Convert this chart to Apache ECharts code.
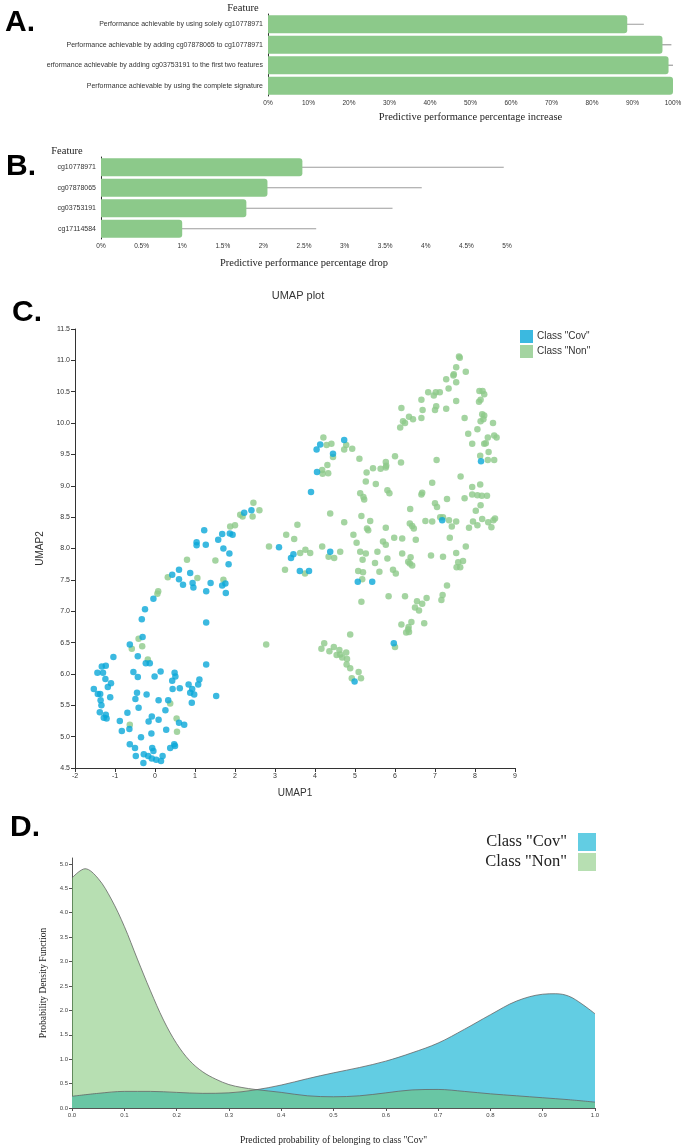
<!DOCTYPE html>
<html><head><meta charset="utf-8">
<script src="https://cdn.jsdelivr.net/npm/echarts@6/dist/echarts.min.js"></script>
<style>html,body{margin:0;padding:0;background:#fff}#c{width:685px;height:1148px}</style>
</head><body><div id="c"></div>
<script>
// ---- Panel A data ----
const catsA = ['Performance achievable by using solely cg10778971','Performance achievable by adding cg07878065 to cg10778971','erformance achievable by adding cg03753191 to the first two features','Performance achievable by using the complete signature'];
const valsA = [88.7, 97.4, 98.9, 100];
const errLowA = [84.0, 95.1, 97.5, 99.6];
const errHighA = [92.8, 99.6, 100.0, 100.0];
// ---- Panel B data ----
const catsB = ['cg10778971','cg07878065','cg03753191','cg17114584'];
const valsB = [2.48, 2.05, 1.79, 1.0];
const errLowB = [0.11, 0.25, 0.17, 0.0];
const errHighB = [4.96, 3.95, 3.59, 2.65];
// ---- Panel C data (UMAP1, UMAP2) ----
const umapCov = [[1.04,8.10],[1.04,8.05],[1.27,8.06],[1.58,8.14],[1.71,8.00],[1.86,7.92],[1.84,7.75],[0.60,7.66],[0.43,7.58],[0.88,7.61],[0.60,7.51],[0.94,7.45],[0.70,7.42],[0.96,7.38],[1.39,7.45],[1.76,7.44],[1.68,7.41],[1.28,7.32],[1.77,7.29],[-0.04,7.20],[-0.25,7.03],[-0.33,6.87],[1.28,6.82],[-0.31,6.59],[-0.63,6.47],[-1.04,6.27],[-0.43,6.28],[-0.23,6.17],[-0.13,6.17],[1.28,6.15],[-1.33,6.12],[-1.23,6.13],[-1.44,6.02],[-1.30,6.02],[-0.54,6.03],[-0.43,5.95],[-0.01,5.96],[0.14,6.04],[0.49,6.02],[0.51,5.96],[1.11,5.91],[-1.24,5.92],[-1.10,5.85],[0.43,5.89],[-1.53,5.76],[-1.18,5.79],[-0.45,5.70],[0.44,5.76],[0.62,5.77],[0.84,5.83],[1.08,5.83],[0.93,5.76],[-1.43,5.68],[-1.37,5.68],[-0.21,5.67],[0.88,5.70],[0.98,5.67],[-1.12,5.63],[1.53,5.65],[-0.49,5.60],[0.09,5.58],[0.33,5.58],[-1.36,5.58],[-1.34,5.50],[-0.41,5.46],[0.92,5.54],[-1.38,5.39],[-0.69,5.38],[0.26,5.42],[-1.23,5.35],[-1.28,5.30],[-1.21,5.29],[-0.08,5.32],[0.09,5.27],[-0.88,5.25],[-0.16,5.24],[0.60,5.22],[0.73,5.19],[-0.64,5.12],[0.28,5.11],[-0.83,5.09],[-0.35,4.99],[-0.09,5.05],[-0.63,4.88],[-0.50,4.82],[-0.07,4.82],[-0.04,4.77],[0.48,4.88],[0.50,4.85],[0.38,4.82],[0.19,4.69],[-0.48,4.69],[-0.28,4.72],[-0.17,4.69],[-0.08,4.65],[0.03,4.63],[0.15,4.61],[-0.29,4.58],[3.10,8.02],[1.23,8.29],[1.68,8.23],[1.87,8.24],[1.94,8.22],[2.23,8.57],[2.41,8.61],[4.73,9.73],[4.13,9.66],[4.04,9.58],[4.45,9.51],[8.15,9.39],[4.05,9.22],[3.90,8.90],[7.18,8.45],[3.46,7.91],[3.40,7.85],[4.38,7.95],[3.62,7.64],[3.85,7.64],[5.07,7.47],[5.43,7.47],[4.99,5.88],[5.97,6.49]];
const umapNon = [[0.80,7.82],[1.51,7.81],[0.32,7.54],[1.06,7.53],[1.71,7.50],[0.08,7.32],[0.06,7.28],[-0.41,6.56],[-0.32,6.44],[-0.58,6.40],[-0.18,6.23],[0.38,5.53],[0.54,5.29],[-0.63,5.19],[0.55,5.08],[2.85,8.03],[2.78,6.47],[3.25,7.66],[1.88,8.35],[2.00,8.37],[2.13,8.54],[2.19,8.51],[2.46,8.73],[2.44,8.51],[2.61,8.61],[3.28,8.22],[7.60,11.06],[7.62,11.04],[7.53,10.89],[7.46,10.76],[7.47,10.78],[7.77,10.82],[7.28,10.70],[7.53,10.65],[7.34,10.55],[6.83,10.49],[6.97,10.44],[7.02,10.49],[7.12,10.49],[8.11,10.51],[8.19,10.51],[8.23,10.46],[6.66,10.37],[7.53,10.35],[8.10,10.34],[8.14,10.37],[6.16,10.24],[6.69,10.21],[7.03,10.27],[7.00,10.21],[7.28,10.23],[8.18,10.14],[8.23,10.12],[6.20,10.03],[6.25,10.00],[6.35,10.10],[6.45,10.06],[6.66,10.08],[7.74,10.08],[8.14,10.03],[8.21,10.06],[8.45,10.00],[6.13,9.93],[8.06,9.90],[7.83,9.83],[8.32,9.77],[8.48,9.80],[8.54,9.77],[4.21,9.77],[4.29,9.65],[4.41,9.67],[4.73,9.58],[4.78,9.65],[4.93,9.59],[7.93,9.67],[8.23,9.67],[8.27,9.68],[4.45,9.46],[5.11,9.43],[8.13,9.48],[8.34,9.54],[8.32,9.41],[8.48,9.41],[6.00,9.47],[5.77,9.38],[6.15,9.37],[7.04,9.41],[4.31,9.33],[5.45,9.28],[5.64,9.27],[5.77,9.29],[5.78,9.32],[5.29,9.21],[4.18,9.25],[4.19,9.19],[4.33,9.20],[7.64,9.15],[5.27,9.07],[5.52,9.03],[6.93,9.05],[7.93,8.98],[8.13,9.02],[5.81,8.93],[5.86,8.88],[5.13,8.88],[5.21,8.82],[5.23,8.78],[6.66,8.86],[6.68,8.89],[7.93,8.86],[8.06,8.85],[8.17,8.84],[8.30,8.84],[7.74,8.80],[7.00,8.72],[7.05,8.66],[7.30,8.79],[8.14,8.69],[4.38,8.56],[5.16,8.52],[6.38,8.63],[8.02,8.60],[7.13,8.50],[7.20,8.50],[4.73,8.42],[5.38,8.44],[6.37,8.40],[6.43,8.36],[6.47,8.32],[6.76,8.44],[6.93,8.43],[7.35,8.45],[7.53,8.43],[7.42,8.35],[7.95,8.43],[8.18,8.47],[8.33,8.42],[8.46,8.45],[8.50,8.48],[8.06,8.37],[8.41,8.34],[7.85,8.33],[3.56,8.38],[4.96,8.22],[5.30,8.32],[5.33,8.29],[5.77,8.33],[3.48,8.15],[5.98,8.17],[6.18,8.16],[6.52,8.14],[7.37,8.17],[5.04,8.09],[5.70,8.11],[5.77,8.06],[4.18,8.03],[3.76,7.98],[3.63,7.93],[3.88,7.93],[4.34,7.87],[4.48,7.85],[4.63,7.95],[5.13,7.95],[5.27,7.92],[5.19,7.82],[5.56,7.95],[5.81,7.84],[5.50,7.77],[6.18,7.92],[6.39,7.86],[6.33,7.79],[6.37,7.76],[6.43,7.73],[6.90,7.89],[7.20,7.87],[7.53,7.93],[7.77,8.03],[7.58,7.78],[7.70,7.80],[7.54,7.70],[7.63,7.70],[3.75,7.60],[5.08,7.64],[5.20,7.62],[5.61,7.63],[5.95,7.66],[6.02,7.60],[5.18,7.51],[7.30,7.41],[7.19,7.26],[7.16,7.18],[5.84,7.24],[6.25,7.24],[6.55,7.16],[6.68,7.12],[6.79,7.21],[6.50,7.06],[6.60,7.01],[5.16,7.15],[6.41,6.83],[6.16,6.79],[6.73,6.81],[6.34,6.75],[6.33,6.71],[6.28,6.66],[6.35,6.67],[4.88,6.63],[4.23,6.49],[4.16,6.40],[4.47,6.43],[4.36,6.36],[4.61,6.38],[4.78,6.34],[4.54,6.30],[4.63,6.31],[4.68,6.26],[4.80,6.24],[4.79,6.15],[4.88,6.09],[5.09,6.03],[4.92,5.93],[5.15,5.93],[6.00,6.43]];
// ---- Panel D data (density curves) ----
const densNonX = [0,0.025,0.05,0.075,0.1,0.125,0.15,0.175,0.2,0.225,0.25,0.275,0.3,0.325,0.35,0.4,0.45,0.5,0.55,0.6,0.65,0.7,0.75,0.8,0.85,0.9,0.95,1.0];
const densNon  = [4.71,4.90,4.70,4.28,3.72,3.05,2.40,1.80,1.32,0.97,0.74,0.59,0.48,0.42,0.38,0.32,0.25,0.23,0.25,0.31,0.37,0.38,0.34,0.29,0.25,0.21,0.17,0.12];
const densCovX = [0,0.05,0.1,0.15,0.2,0.25,0.3,0.35,0.4,0.45,0.5,0.55,0.6,0.65,0.7,0.75,0.8,0.85,0.9,0.925,0.95,0.975,1.0];
const densCov  = [0.24,0.30,0.34,0.34,0.32,0.30,0.31,0.37,0.47,0.60,0.72,0.83,0.96,1.13,1.33,1.61,1.91,2.19,2.33,2.34,2.29,2.13,1.93];

const GREEN = '#8cc98a', BLUE_DOT = '#0aa8d8', GREEN_DOT = '#8dc98a';
const D_BLUE = '#62cde3', D_GREEN = '#b7dfb2';
const SANS = 'Liberation Sans', SERIF = 'Liberation Serif';

function errItem(params, api) {
  const a = api.coord([api.value(0), api.value(2)]);
  const b = api.coord([api.value(1), api.value(2)]);
  return {type:'line', shape:{x1:a[0], y1:a[1], x2:b[0], y2:b[1]}, style:{stroke:'rgba(60,60,60,0.5)', lineWidth:1.2}};
}
const axLine = {onZero:false, lineStyle:{color:'#333', width:1}};
const axTick = {length:4, lineStyle:{color:'#333'}};
const nameMap = {cCov:'Class "Cov"', cNon:'Class "Non"', dCov:'Class "Cov"', dNon:'Class "Non"'};

const chart = echarts.init(document.getElementById('c'), null, {renderer:'canvas'});
chart.setOption({
  animation:false,
  backgroundColor:'#fff',
  grid:[
    {left:268, top:14, width:405, height:82},
    {left:101, top:157, width:406, height:82},
    {left:75, top:329, width:440, height:439},
    {left:72, top:858, width:523, height:250}
  ],
  xAxis:[
    {gridIndex:0, type:'value', min:0, max:100, interval:10, axisLine:axLine, axisTick:axTick, splitLine:{show:false},
      axisLabel:{formatter:'{value}%', fontSize:6.5, color:'#333', fontFamily:SANS, margin:4},
      name:'Predictive performance percentage increase', nameLocation:'middle', nameGap:16,
      nameTextStyle:{fontFamily:SERIF, fontSize:10.5, color:'#222'}},
    {gridIndex:1, type:'value', min:0, max:5, interval:0.5, axisLine:axLine, axisTick:axTick, splitLine:{show:false},
      axisLabel:{formatter:v=>v+'%', fontSize:6.5, color:'#333', fontFamily:SANS, margin:4},
      name:'Predictive performance percentage drop', nameLocation:'middle', nameGap:19,
      nameTextStyle:{fontFamily:SERIF, fontSize:10.5, color:'#222'}},
    {gridIndex:2, type:'value', min:-2, max:9, interval:1, axisLine:axLine, axisTick:axTick, splitLine:{show:false},
      axisLabel:{fontSize:7, color:'#333', fontFamily:SANS, margin:5},
      name:'UMAP1', nameLocation:'middle', nameGap:20, nameTextStyle:{fontFamily:SANS, fontSize:10, color:'#333'}},
    {gridIndex:3, type:'value', min:0, max:1, interval:0.1, axisLine:{onZero:false, lineStyle:{color:'#555'}}, axisTick:{length:3, lineStyle:{color:'#555'}}, splitLine:{show:false},
      axisLabel:{formatter:v=>v.toFixed(1), fontSize:6, color:'#444', fontFamily:SANS, margin:4},
      name:'Predicted probability of belonging to class "Cov"', nameLocation:'middle', nameGap:27,
      nameTextStyle:{fontFamily:SERIF, fontSize:9.5, color:'#222'}}
  ],
  yAxis:[
    {gridIndex:0, type:'category', data:catsA, inverse:true, axisLine:axLine, axisTick:{alignWithLabel:true, length:4, lineStyle:{color:'#333'}},
      axisLabel:{fontSize:7, color:'#333', fontFamily:SANS, margin:5}},
    {gridIndex:1, type:'category', data:catsB, inverse:true, axisLine:axLine, axisTick:{alignWithLabel:true, length:4, lineStyle:{color:'#333'}},
      axisLabel:{fontSize:7, color:'#333', fontFamily:SANS, margin:5}},
    {gridIndex:2, type:'value', min:4.5, max:11.5, interval:0.5, axisLine:{show:true, onZero:false, lineStyle:{color:'#333'}}, axisTick:{show:true, length:4, lineStyle:{color:'#333'}}, splitLine:{show:false},
      axisLabel:{formatter:v=>v.toFixed(1), fontSize:7, color:'#333', fontFamily:SANS, margin:5},
      name:'UMAP2', nameLocation:'middle', nameGap:22, nameRotate:90, nameTextStyle:{fontFamily:SANS, fontSize:10, color:'#333'}},
    {gridIndex:3, type:'value', min:0, max:5.12, interval:0.5, axisLine:{show:true, onZero:false, lineStyle:{color:'#555'}}, axisTick:{show:true, length:3, lineStyle:{color:'#555'}}, splitLine:{show:false},
      axisLabel:{formatter:v=>v.toFixed(1), fontSize:6, color:'#444', fontFamily:SANS, margin:4, showMaxLabel:false},
      name:'Probability Density Function', nameLocation:'middle', nameGap:22, nameRotate:90,
      nameTextStyle:{fontFamily:SERIF, fontSize:9.5, color:'#222'}}
  ],
  legend:[
    {data:[{name:'cCov', itemStyle:{color:BLUE_DOT}}, {name:'cNon', itemStyle:{color:GREEN_DOT}}],
      formatter:n=>nameMap[n], orient:'vertical', left:520, top:330, itemWidth:13, itemHeight:13, itemGap:2, icon:'rect',
      padding:0, selectedMode:false, textStyle:{fontSize:10, fontFamily:SANS, color:'#333', padding:[0,0,0,-1]}},
    {data:[{name:'dCov', itemStyle:{color:D_BLUE}}, {name:'dNon', itemStyle:{color:D_GREEN}}],
      formatter:n=>nameMap[n], orient:'vertical', right:89, top:833, align:'right', itemWidth:18, itemHeight:18, itemGap:2, icon:'rect',
      padding:0, selectedMode:false, textStyle:{fontSize:16.5, fontFamily:SERIF, color:'#222', padding:[0,6,0,0]}}
  ],
  series:[
    {type:'bar', xAxisIndex:0, yAxisIndex:0, data:valsA, barWidth:18, itemStyle:{color:GREEN, borderRadius:[0,3,3,0]}, silent:true},
    {type:'custom', xAxisIndex:0, yAxisIndex:0, data:catsA.map((c,i)=>[errLowA[i], errHighA[i], i]), renderItem:errItem, encode:{x:[0,1], y:2}, silent:true},
    {type:'bar', xAxisIndex:1, yAxisIndex:1, data:valsB, barWidth:18, itemStyle:{color:GREEN, borderRadius:[0,3,3,0]}, silent:true},
    {type:'custom', xAxisIndex:1, yAxisIndex:1, data:catsB.map((c,i)=>[errLowB[i], errHighB[i], i]), renderItem:errItem, encode:{x:[0,1], y:2}, silent:true},
    {type:'scatter', name:'cNon', xAxisIndex:2, yAxisIndex:2, data:umapNon, symbolSize:6.5, itemStyle:{color:GREEN_DOT}},
    {type:'scatter', name:'cCov', xAxisIndex:2, yAxisIndex:2, data:umapCov, symbolSize:6.5, itemStyle:{color:BLUE_DOT}},
    {type:'line', name:'dCov', xAxisIndex:3, yAxisIndex:3, data:densCovX.map((x,i)=>[x,densCov[i]]), smooth:0.35, showSymbol:false,
      lineStyle:{color:'#666', width:0.8}, itemStyle:{color:D_BLUE}, areaStyle:{color:D_BLUE, opacity:1}},
    {type:'line', name:'dNon', xAxisIndex:3, yAxisIndex:3, data:densNonX.map((x,i)=>[x,densNon[i]]), smooth:0.35, showSymbol:false,
      lineStyle:{color:'#666', width:0.8}, itemStyle:{color:D_GREEN}, areaStyle:{color:'rgba(111,191,101,0.5)', opacity:1}}
  ],
  graphic:[
    {type:'text', left:5, top:8, style:{text:'A.', font:'bold 30px "Liberation Sans"', fill:'#000'}},
    {type:'text', left:6, top:152, style:{text:'B.', font:'bold 30px "Liberation Sans"', fill:'#000'}},
    {type:'text', left:12, top:298, style:{text:'C.', font:'bold 30px "Liberation Sans"', fill:'#000'}},
    {type:'text', left:10, top:813, style:{text:'D.', font:'bold 30px "Liberation Sans"', fill:'#000'}},
    {type:'text', x:243, y:8, style:{text:'Feature', font:'10.5px "Liberation Serif"', fill:'#222', textAlign:'center', textVerticalAlign:'middle'}},
    {type:'text', x:67, y:151, style:{text:'Feature', font:'10.5px "Liberation Serif"', fill:'#222', textAlign:'center', textVerticalAlign:'middle'}},
    {type:'text', x:298, y:296, style:{text:'UMAP plot', font:'11px "Liberation Sans"', fill:'#333', textAlign:'center', textVerticalAlign:'middle'}}
  ]
});
</script></body></html>
